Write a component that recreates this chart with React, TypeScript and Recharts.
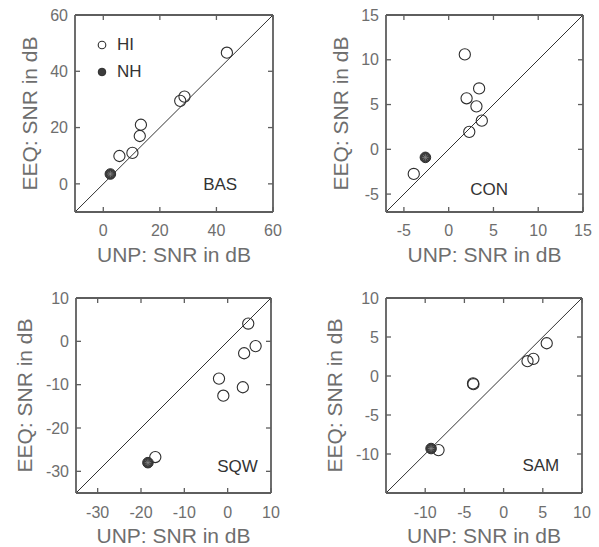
import React from 'react';
import {
  ScatterChart, Scatter, XAxis, YAxis, ReferenceLine, ReferenceDot, Legend, Label,
} from 'recharts';

// ---- data (UNP x, EEQ y) ----
const basHI = [
  { x: 5.7, y: 9.9 }, { x: 10.3, y: 11 }, { x: 12.9, y: 17 }, { x: 13.3, y: 21 },
  { x: 27.2, y: 29.5 }, { x: 28.7, y: 31 }, { x: 43.7, y: 46.6 },
];
const basNH = [{ x: 2.5, y: 3.5 }];

const conHI = [
  { x: -3.9, y: -2.75 }, { x: 1.8, y: 10.6 }, { x: 2.0, y: 5.7 }, { x: 3.4, y: 6.8 },
  { x: 3.1, y: 4.8 }, { x: 3.7, y: 3.2 }, { x: 2.3, y: 1.95 },
];
const conNH = [{ x: -2.6, y: -0.9 }];

const sqwHI = [
  { x: -16.7, y: -26.7 }, { x: 4.75, y: 4.1 }, { x: 6.45, y: -1.1 }, { x: 3.8, y: -2.75 },
  { x: -2.0, y: -8.6 }, { x: -1.0, y: -12.55 }, { x: 3.5, y: -10.6 },
];
const sqwNH = [{ x: -18.4, y: -28 }];

const samHI = [
  { x: -8.3, y: -9.5 }, { x: -3.9, y: -0.95 }, { x: -3.85, y: -1.05 },
  { x: 3.05, y: 1.9 }, { x: 3.8, y: 2.2 }, { x: 5.5, y: 4.2 },
];
const samNH = [{ x: -9.25, y: -9.3 }];

const basDomain = [-10, 60];
const conDomain = [-7, 15];
const sqwDomain = [-35, 10];
const samDomain = [-15, 10];

const basTicks = [0, 20, 40, 60];
const conTicks = [-5, 0, 5, 10, 15];
const sqwTicks = [-30, -20, -10, 0, 10];
const samTicks = [-10, -5, 0, 5, 10];

// panel name label anchor (data units)
const basTag = { x: 35.3, y: -2.2 };
const conTag = { x: 2.4, y: -5.1 };
const sqwTag = { x: -2.4, y: -30.2 };
const samTag = { x: 2.4, y: -12.2 };

const xLabel = 'UNP: SNR in dB';
const yLabel = 'EEQ: SNR in dB';

const FONT = 'Liberation Sans, Arial, Helvetica, sans-serif';
const BOX = '#5e5e5e';
const TXT = '#6e6e6e';
const TICK_LEN = 5;

const HiShape = (p: any) => (
  <circle cx={p.cx} cy={p.cy} r={5.6} fill="none" stroke="#2e2e2e" strokeWidth={1.1} />
);
const NhShape = (p: any) => {
  const { cx, cy } = p;
  const r = 3.2;
  const d = r * 0.707;
  return (
    <g>
      <circle cx={cx} cy={cy} r={5.3} fill="#3c3c3c" stroke="#2e2e2e" strokeWidth={1} />
      <g stroke="#8a8a8a" strokeWidth={0.7}>
        <line x1={cx - r} y1={cy} x2={cx + r} y2={cy} />
        <line x1={cx} y1={cy - r} x2={cx} y2={cy + r} />
        <line x1={cx - d} y1={cy - d} x2={cx + d} y2={cy + d} />
        <line x1={cx - d} y1={cy + d} x2={cx + d} y2={cy - d} />
      </g>
    </g>
  );
};

const LegendContent = (props: any) => {
  const items = (props.payload || []).filter((it: any) => it.value === 'HI' || it.value === 'NH');
  return (
    <div style={{ fontFamily: FONT, fontSize: 17, color: '#333' }}>
      {items.map((it: any, i: number) => (
        <div key={i} style={{ display: 'flex', alignItems: 'center', height: 27 }}>
          <svg width={14} height={14} style={{ marginRight: 8 }}>
            {it.value === 'HI' ? (
              <circle cx={7} cy={7} r={3.8} fill="none" stroke="#2e2e2e" strokeWidth={1.1} />
            ) : (
              <circle cx={7} cy={7} r={3.8} fill="#3c3c3c" stroke="#2e2e2e" strokeWidth={1} />
            )}
          </svg>
          <span>{it.value}</span>
        </div>
      ))}
    </div>
  );
};

// tick renderers: draw inward tick line + label
const BottomTick = (p: any) => {
  const { x, y, payload, margin } = p;
  const base = y - margin;
  return (
    <g>
      <line x1={x} y1={base} x2={x} y2={base - TICK_LEN} stroke={BOX} strokeWidth={1.3} />
      <text x={x} y={y} dy={11.4} textAnchor="middle" fontFamily={FONT} fontSize={16} fill={TXT}>
        {payload.value}
      </text>
    </g>
  );
};
const LeftTick = (p: any) => {
  const { x, y, payload, margin } = p;
  const base = x + margin;
  return (
    <g>
      <line x1={base} y1={y} x2={base + TICK_LEN} y2={y} stroke={BOX} strokeWidth={1.3} />
      <text x={x} y={y} dy={5.7} textAnchor="end" fontFamily={FONT} fontSize={16} fill={TXT}>
        {payload.value}
      </text>
    </g>
  );
};
const TopTick = (p: any) => {
  const { x, y } = p;
  return <line x1={x} y1={y} x2={x} y2={y + TICK_LEN} stroke={BOX} strokeWidth={1.3} />;
};
const RightTick = (p: any) => {
  const { x, y } = p;
  return <line x1={x} y1={y} x2={x - TICK_LEN} y2={y} stroke={BOX} strokeWidth={1.3} />;
};

type PanelProps = {
  left: number; top: number; width: number; height: number;
  yAxisWidth: number; xAxisHeight: number; mTop: number; mRight: number;
  domain: number[]; ticks: number[];
  hi: { x: number; y: number }[]; nh: { x: number; y: number }[];
  tag: string; tagPos: { x: number; y: number };
  yLabelOffset: number; xTickGap: number; showLegend?: boolean;
};

const Panel = (pp: PanelProps) => {
  const {
    left, top, width, height, yAxisWidth, xAxisHeight, mTop, mRight,
    domain, ticks, hi, nh, tag, tagPos, yLabelOffset, xTickGap, showLegend,
  } = pp;
  const d0 = domain[0];
  const d1 = domain[1];
  const yTickGap = 7;
  return (
    <div style={{ position: 'absolute', left, top }}>
      <ScatterChart
        width={width}
        height={height}
        margin={{ top: mTop - 1, right: mRight - 1, bottom: 0, left: 0 }}
      >
        <XAxis
          xAxisId="b" dataKey="x" type="number" domain={[d0, d1]} ticks={ticks}
          allowDataOverflow orientation="bottom" height={xAxisHeight}
          axisLine={{ stroke: BOX, strokeWidth: 1.8 }} tickLine={false}
          tickSize={0} tickMargin={xTickGap}
          tick={(tp: any) => <BottomTick {...tp} margin={xTickGap} />} interval={0}
        >
          <Label
            content={(lp: any) => {
              const vb = lp.viewBox;
              return (
                <text x={vb.x + vb.width / 2} y={vb.y + 49.5} textAnchor="middle"
                  fontFamily={FONT} fontSize={21} fill={TXT}>{xLabel}</text>
              );
            }}
          />
        </XAxis>
        <XAxis
          xAxisId="t" dataKey="x" type="number" domain={[d0, d1]} ticks={ticks} allowDataOverflow
          orientation="top" height={1} axisLine={false} tickLine={false}
          tickSize={0} tickMargin={0} tick={(tp: any) => <TopTick {...tp} />} interval={0}
        />
        <YAxis
          yAxisId="l" dataKey="y" type="number" domain={[d0, d1]} ticks={ticks}
          allowDataOverflow orientation="left" width={yAxisWidth}
          axisLine={{ stroke: BOX, strokeWidth: 1.8 }} tickLine={false}
          tickSize={0} tickMargin={yTickGap}
          tick={(tp: any) => <LeftTick {...tp} margin={yTickGap} />} interval={0}
        >
          <Label
            content={(lp: any) => {
              const vb = lp.viewBox;
              const cx = vb.x + vb.width - yLabelOffset;
              const cy = vb.y + vb.height / 2;
              return (
                <text x={cx} y={cy} dy={7.5} textAnchor="middle" transform={`rotate(-90 ${cx} ${cy})`}
                  fontFamily={FONT} fontSize={21} fill={TXT}>{yLabel}</text>
              );
            }}
          />
        </YAxis>
        <YAxis
          yAxisId="r" dataKey="y" type="number" domain={[d0, d1]} ticks={ticks} allowDataOverflow
          orientation="right" width={1} axisLine={false} tickLine={false}
          tickSize={0} tickMargin={0} tick={(tp: any) => <RightTick {...tp} />} interval={0}
        />
        <ReferenceLine
          xAxisId="b" yAxisId="l"
          segment={[{ x: d0, y: d1 }, { x: d1, y: d1 }]}
          stroke={BOX} strokeWidth={1.8} ifOverflow="visible"
        />
        <ReferenceLine
          xAxisId="b" yAxisId="l"
          segment={[{ x: d1, y: d0 }, { x: d1, y: d1 }]}
          stroke={BOX} strokeWidth={1.8} ifOverflow="visible"
        />
        <ReferenceLine
          xAxisId="b" yAxisId="l"
          segment={[{ x: d0, y: d0 }, { x: d1, y: d1 }]}
          stroke="#333" strokeWidth={1} ifOverflow="visible"
        />
        <ReferenceDot
          xAxisId="b" yAxisId="l" x={tagPos.x} y={tagPos.y} r={0} stroke="none" fill="none"
          label={(lp: any) => {
            const vb = lp.viewBox;
            return (
              <text x={vb.x} y={vb.y} fontFamily={FONT} fontSize={17} fill="#333">{tag}</text>
            );
          }}
        />
        <Scatter name="HI" data={hi} xAxisId="b" yAxisId="l" shape={HiShape}
          fill="#ffffff" isAnimationActive={false} legendType="circle" />
        <Scatter name="NH" data={nh} xAxisId="b" yAxisId="l" shape={NhShape}
          fill="#3c3c3c" isAnimationActive={false} legendType="circle" />
        <Scatter name="box" data={[]} xAxisId="t" yAxisId="r" isAnimationActive={false}
          legendType="none" />
        {showLegend ? (
          <Legend
            layout="vertical" align="center" verticalAlign="middle"
            wrapperStyle={{ left: 95, top: 31, width: 80, height: 60 }}
            content={LegendContent}
          />
        ) : null}
      </ScatterChart>
    </div>
  );
};

export default function App() {
  return (
    <div style={{ position: 'absolute', left: 0, top: 0, width: 599, height: 547, background: '#fff' }}>
      <Panel left={0} top={0} width={300} height={270} yAxisWidth={75} xAxisHeight={58}
        mTop={15} mRight={27} domain={basDomain} ticks={basTicks} hi={basHI} nh={basNH}
        tag="BAS" tagPos={basTag} yLabelOffset={45.8} xTickGap={13} showLegend />
      <Panel left={300} top={0} width={299} height={270} yAxisWidth={86} xAxisHeight={58}
        mTop={15} mRight={16} domain={conDomain} ticks={conTicks} hi={conHI} nh={conNH}
        tag="CON" tagPos={conTag} yLabelOffset={45.5} xTickGap={13} />
      <Panel left={0} top={270} width={300} height={277} yAxisWidth={76} xAxisHeight={54}
        mTop={28} mRight={29} domain={sqwDomain} ticks={sqwTicks} hi={sqwHI} nh={sqwNH}
        tag="SQW" tagPos={sqwTag} yLabelOffset={51.8} xTickGap={14} />
      <Panel left={300} top={270} width={299} height={277} yAxisWidth={86} xAxisHeight={54}
        mTop={28} mRight={17} domain={samDomain} ticks={samTicks} hi={samHI} nh={samNH}
        tag="SAM" tagPos={samTag} yLabelOffset={51.3} xTickGap={14} />
    </div>
  );
}
